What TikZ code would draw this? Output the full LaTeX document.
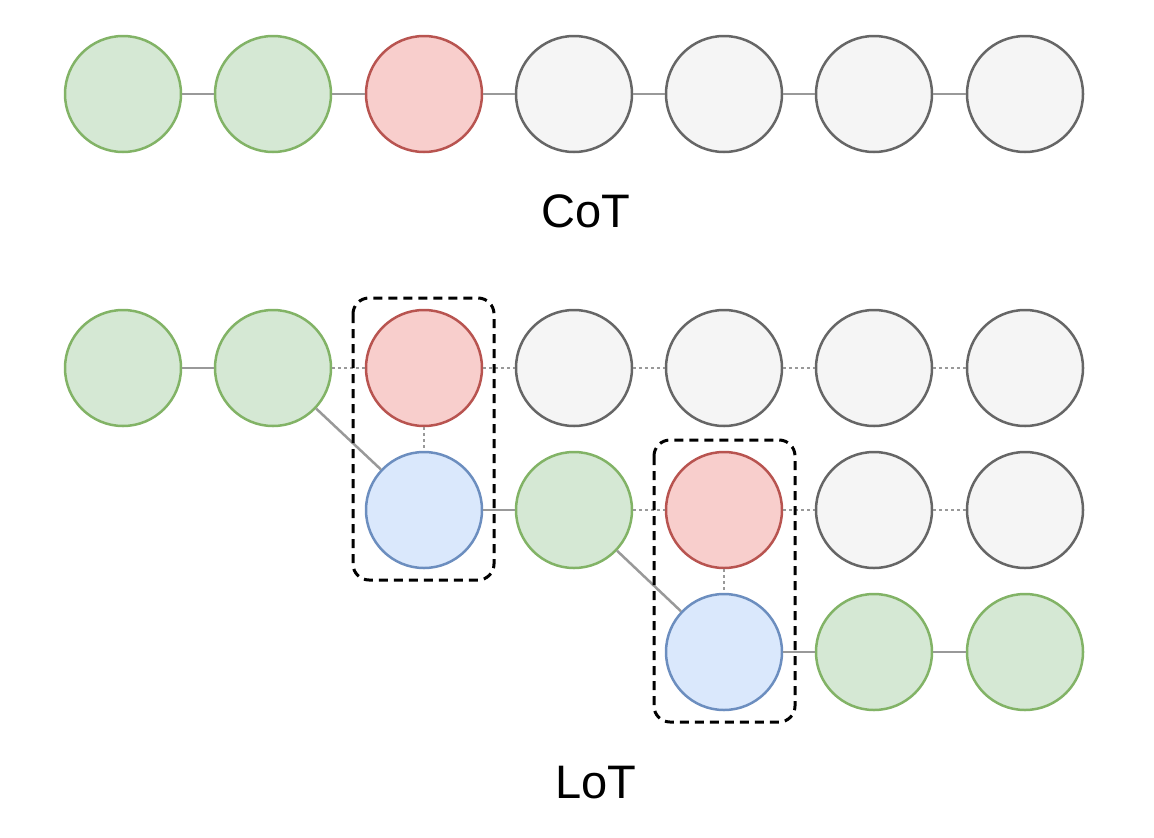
\documentclass[tikz,border=0pt]{standalone}
\usepackage{fontspec}
\setmainfont{Liberation Sans}
\begin{document}
\begin{tikzpicture}[x=1pt,y=-1pt,
  base/.style={circle,minimum size=116pt,inner sep=0pt,line width=2.5pt},
  gn/.style={base,fill={rgb,255:red,213;green,232;blue,212},draw={rgb,255:red,130;green,179;blue,102}},
  rd/.style={base,fill={rgb,255:red,248;green,206;blue,204},draw={rgb,255:red,184;green,84;blue,80}},
  gy/.style={base,fill={rgb,255:red,245;green,245;blue,245},draw={rgb,255:red,102;green,102;blue,102}},
  bl/.style={base,fill={rgb,255:red,218;green,232;blue,252},draw={rgb,255:red,108;green,142;blue,191}},
  link/.style={draw={rgb,255:red,153;green,153;blue,153},line width=2.5pt},
  dlink/.style={draw={rgb,255:red,153;green,153;blue,153},line width=2.5pt,dash pattern=on 3pt off 3pt},
  grp/.style={draw=black,line width=3pt,dash pattern=on 9pt off 6pt,rounded corners=16pt},
  lbl/.style={font=\fontsize{47}{56}\selectfont,inner sep=0pt,anchor=base}]
\useasboundingbox (0,0) rectangle (1154,838);
% row 1
\node[gn] (a1) at (123,94) {};
\node[gn] (a2) at (273,94) {};
\node[rd] (a3) at (424,94) {};
\node[gy] (a4) at (574,94) {};
\node[gy] (a5) at (724,94) {};
\node[gy] (a6) at (874,94) {};
\node[gy] (a7) at (1025,94) {};
\draw[link] (a1) -- (a2);
\draw[link] (a2) -- (a3);
\draw[link] (a3) -- (a4);
\draw[link] (a4) -- (a5);
\draw[link] (a5) -- (a6);
\draw[link] (a6) -- (a7);
\node[lbl] (cot) at (586,227) {CoT};
% row 2
\node[gn] (b1) at (123,368) {};
\node[gn] (b2) at (273,368) {};
\node[rd] (b3) at (424,368) {};
\node[gy] (b4) at (574,368) {};
\node[gy] (b5) at (724,368) {};
\node[gy] (b6) at (874,368) {};
\node[gy] (b7) at (1025,368) {};
% row 3
\node[bl] (c3) at (424,510) {};
\node[gn] (c4) at (574,510) {};
\node[rd] (c5) at (724,510) {};
\node[gy] (c6) at (874,510) {};
\node[gy] (c7) at (1025,510) {};
% row 4
\node[bl] (d5) at (724,652) {};
\node[gn] (d6) at (874,652) {};
\node[gn] (d7) at (1025,652) {};
\draw[link] (b1) -- (b2);
\draw[dlink] (b2) -- (b3);
\draw[dlink] (b3) -- (b4);
\draw[dlink] (b4) -- (b5);
\draw[dlink] (b5) -- (b6);
\draw[dlink] (b6) -- (b7);
\draw[link] (b2) -- (c3);
\draw[dlink] (b3) -- (c3);
\draw[link] (c3) -- (c4);
\draw[dlink] (c4) -- (c5);
\draw[dlink] (c5) -- (c6);
\draw[dlink] (c6) -- (c7);
\draw[link] (c4) -- (d5);
\draw[dlink] (c5) -- (d5);
\draw[link] (d5) -- (d6);
\draw[link] (d6) -- (d7);
% groups
\draw[grp] (353,298) rectangle (494,580);
\draw[grp] (654,440) rectangle (795,722);
\node[lbl] (lot) at (596,798) {LoT};
\end{tikzpicture}
\end{document}
